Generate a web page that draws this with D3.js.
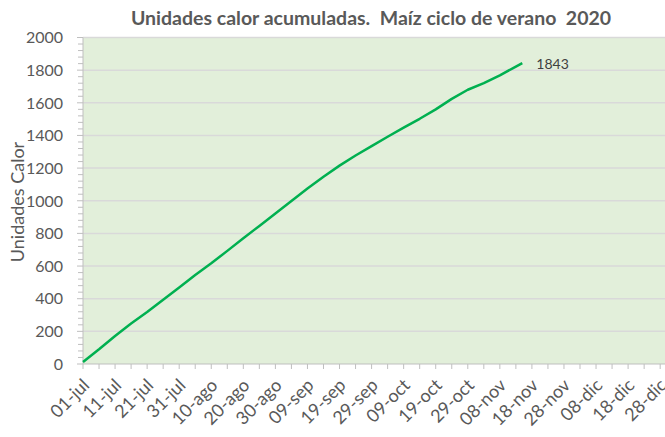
<!DOCTYPE html>
<html>
<head>
<meta charset="utf-8">
<script src="https://cdn.jsdelivr.net/npm/d3@7"></script>
<style>
  body { margin: 0; background: #fff; }
  text { font-family: Lato, "DejaVu Sans", sans-serif; fill: #595959; }
</style>
</head>
<body>
<div id="chart"></div>
<script>
const title = 'Unidades calor acumuladas.  Maíz ciclo de verano  2020';
const yTitle = 'Unidades Calor';

// cumulative heat units, read every 5 days off the picture
const dates = ['2020-07-01','2020-07-06','2020-07-11','2020-07-16','2020-07-21','2020-07-26','2020-07-31',
  '2020-08-05','2020-08-10','2020-08-15','2020-08-20','2020-08-25','2020-08-30',
  '2020-09-04','2020-09-09','2020-09-14','2020-09-19','2020-09-24','2020-09-29',
  '2020-10-04','2020-10-09','2020-10-14','2020-10-19','2020-10-24','2020-10-29',
  '2020-11-03','2020-11-08','2020-11-13','2020-11-15'];
const values = [12, 90, 172, 248, 318, 394, 468,
  545, 617, 693, 770, 846, 922,
  998, 1075, 1147, 1215, 1277, 1335,
  1392, 1448, 1502, 1560, 1624, 1680,
  1720, 1768, 1822, 1843];

const xTickLabels = ['01-jul','11-jul','21-jul','31-jul','10-ago','20-ago','30-ago','09-sep','19-sep',
  '29-sep','09-oct','19-oct','29-oct','08-nov','18-nov','28-nov','08-dic','18-dic','28-dic'];
const yTicks = [0, 200, 400, 600, 800, 1000, 1200, 1400, 1600, 1800, 2000];

const W = 665, H = 437;
const margin = {top: 37.5, left: 83, bottom: 73};
const parse = d3.utcParse('%Y-%m-%d');
const data = dates.map((d, i) => ({date: parse(d), value: values[i]}));

const start = parse('2020-07-01');
const end = parse('2021-01-01');

const x = d3.scaleUtc().domain([start, end]).range([margin.left, 673]);
const y = d3.scaleLinear().domain([0, 2000]).range([H - margin.bottom, margin.top]);

const svg = d3.select('#chart').append('svg')
  .attr('width', W)
  .attr('height', H);

// plot area
svg.append('rect')
  .attr('x', margin.left)
  .attr('y', y(2000))
  .attr('width', W - margin.left)
  .attr('height', y(0) - y(2000))
  .attr('fill', '#e2efda');

// gridlines
svg.append('g')
  .selectAll('line')
  .data(yTicks.filter(d => d > 0))
  .join('line')
    .attr('x1', margin.left)
    .attr('x2', W)
    .attr('y1', d => y(d))
    .attr('y2', d => y(d))
    .attr('stroke', '#d9d9d9')
    .attr('stroke-width', 1.5);

// y axis: minor ticks every 40, majors every 200
const yMinor = d3.range(0, 2001, 40);
svg.append('g')
  .selectAll('line')
  .data(yMinor)
  .join('line')
    .attr('x1', d => margin.left - (d % 200 === 0 ? 6 : 5))
    .attr('x2', margin.left)
    .attr('y1', d => y(d))
    .attr('y2', d => y(d))
    .attr('stroke', '#bfbfbf');

svg.append('line')
  .attr('x1', margin.left).attr('x2', margin.left)
  .attr('y1', y(2000)).attr('y2', y(0))
  .attr('stroke', '#bfbfbf');

svg.append('g')
  .selectAll('text')
  .data(yTicks)
  .join('text')
    .attr('x', margin.left - 20)
    .attr('y', d => y(d))
    .attr('dy', '0.36em')
    .attr('text-anchor', 'end')
    .style('font-size', '16px')
    .text(d => d);

// x axis
const xTicks = d3.range(0, 185, 5).map(d => d3.utcDay.offset(start, d));
svg.append('line')
  .attr('x1', margin.left).attr('x2', W)
  .attr('y1', y(0)).attr('y2', y(0))
  .attr('stroke', '#bfbfbf');

svg.append('g')
  .selectAll('line')
  .data(xTicks)
  .join('line')
    .attr('x1', d => x(d))
    .attr('x2', d => x(d))
    .attr('y1', y(0))
    .attr('y2', y(0) + 5)
    .attr('stroke', '#bfbfbf');

svg.append('g')
  .selectAll('text')
  .data(xTickLabels)
  .join('text')
    .attr('transform', (d, i) => `translate(${x(d3.utcDay.offset(start, i * 10)) + 3},${y(0) + 18}) rotate(-45)`)
    .attr('text-anchor', 'end')
    .attr('dy', '0.35em')
    .style('font-size', '18px')
    .text(d => d);

// series
const line = d3.line()
  .x(d => x(d.date))
  .y(d => y(d.value));

svg.append('path')
  .datum(data)
  .attr('fill', 'none')
  .attr('stroke', '#00b050')
  .attr('stroke-width', 2.5)
  .attr('stroke-linejoin', 'round')
  .attr('d', line);

const last = data[data.length - 1];
svg.append('text')
  .attr('x', x(last.date) + 14)
  .attr('y', y(last.value) + 6)
  .style('font-size', '14px')
  .style('fill', '#404040')
  .text(last.value);

// titles
svg.append('text')
  .attr('x', 371)
  .attr('y', 25)
  .attr('text-anchor', 'middle')
  .style('font-size', '19.5px')
  .style('font-weight', 'bold')
  .style('white-space', 'pre')
  .text(title);

svg.append('text')
  .attr('transform', 'translate(24,202) rotate(-90)')
  .attr('text-anchor', 'middle')
  .style('font-size', '18px')
  .text(yTitle);
</script>
</body>
</html>
